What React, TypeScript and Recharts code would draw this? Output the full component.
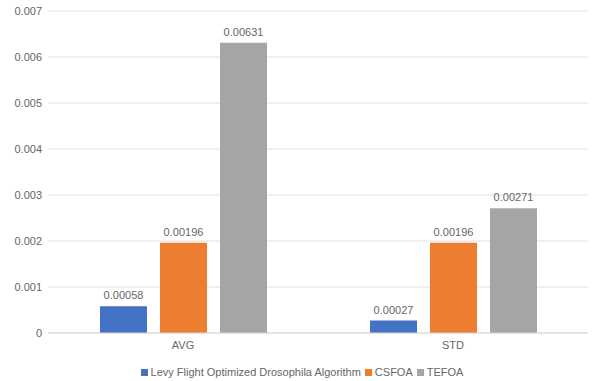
import React from 'react';
import { BarChart, Bar, XAxis, YAxis, CartesianGrid, Legend, LabelList } from 'recharts';

const categories = ['AVG', 'STD'];
const levyValues = [0.00058, 0.00027];
const csfoaValues = [0.00196, 0.00196];
const tefoaValues = [0.00631, 0.00271];
const yTicks = [0, 0.001, 0.002, 0.003, 0.004, 0.005, 0.006, 0.007];

const SERIES = [
  { key: 'levy', name: 'Levy Flight Optimized Drosophila Algorithm', color: '#4472C4' },
  { key: 'csfoa', name: 'CSFOA', color: '#ED7D31' },
  { key: 'tefoa', name: 'TEFOA', color: '#A5A5A5' },
];

const data = categories.map((c, i) => ({
  name: c,
  levy: levyValues[i],
  csfoa: csfoaValues[i],
  tefoa: tefoaValues[i],
}));

const FONT = '"Liberation Sans", Arial, sans-serif';
const TEXT = '#666666';

const LegendContent = () => (
  <div style={{ display: 'flex', justifyContent: 'center', alignItems: 'center', fontSize: 11, color: TEXT, fontFamily: FONT, height: 18, paddingLeft: 20 }}>
    {SERIES.map(s => (
      <span key={s.key} style={{ display: 'inline-flex', alignItems: 'center', marginRight: 4 }}>
        <span style={{ display: 'inline-block', width: 7, height: 7, background: s.color, marginRight: 3 }} />
        {s.name}
      </span>
    ))}
  </div>
);

const App: React.FC = () => {
  return (
    <div style={{ position: 'absolute', left: 0, top: 0, fontFamily: FONT }}>
      <BarChart
        width={592}
        height={381}
        data={data}
        margin={{ top: 11, right: 4, bottom: 0, left: 0 }}
        barGap={13}
        barSize={47}
      >
        <CartesianGrid vertical={false} stroke="#e0e0e0" />
        <XAxis
          dataKey="name"
          axisLine={{ stroke: '#d9d9d9' }}
          tickLine={false}
          tickSize={0}
          tickMargin={8}
          height={30}
          tick={{ fill: TEXT, fontSize: 11, fontFamily: FONT }}
        />
        <YAxis
          width={48}
          domain={[0, 0.007]}
          ticks={yTicks}
          axisLine={false}
          tickLine={false}
          tickSize={0}
          tickMargin={6}
          tickFormatter={(v: number) => String(v)}
          tick={{ fill: TEXT, fontSize: 11, fontFamily: FONT }}
        />
        <Legend verticalAlign="bottom" height={18} content={<LegendContent />} />
        {SERIES.map(s => (
          <Bar key={s.key} dataKey={s.key} name={s.name} fill={s.color} isAnimationActive={false}>
            <LabelList
              dataKey={s.key}
              position="top"
              offset={7}
              fill={TEXT}
              stroke="none"
              fontSize={11}
              fontFamily={FONT}
            />
          </Bar>
        ))}
      </BarChart>
    </div>
  );
};

export default App;
